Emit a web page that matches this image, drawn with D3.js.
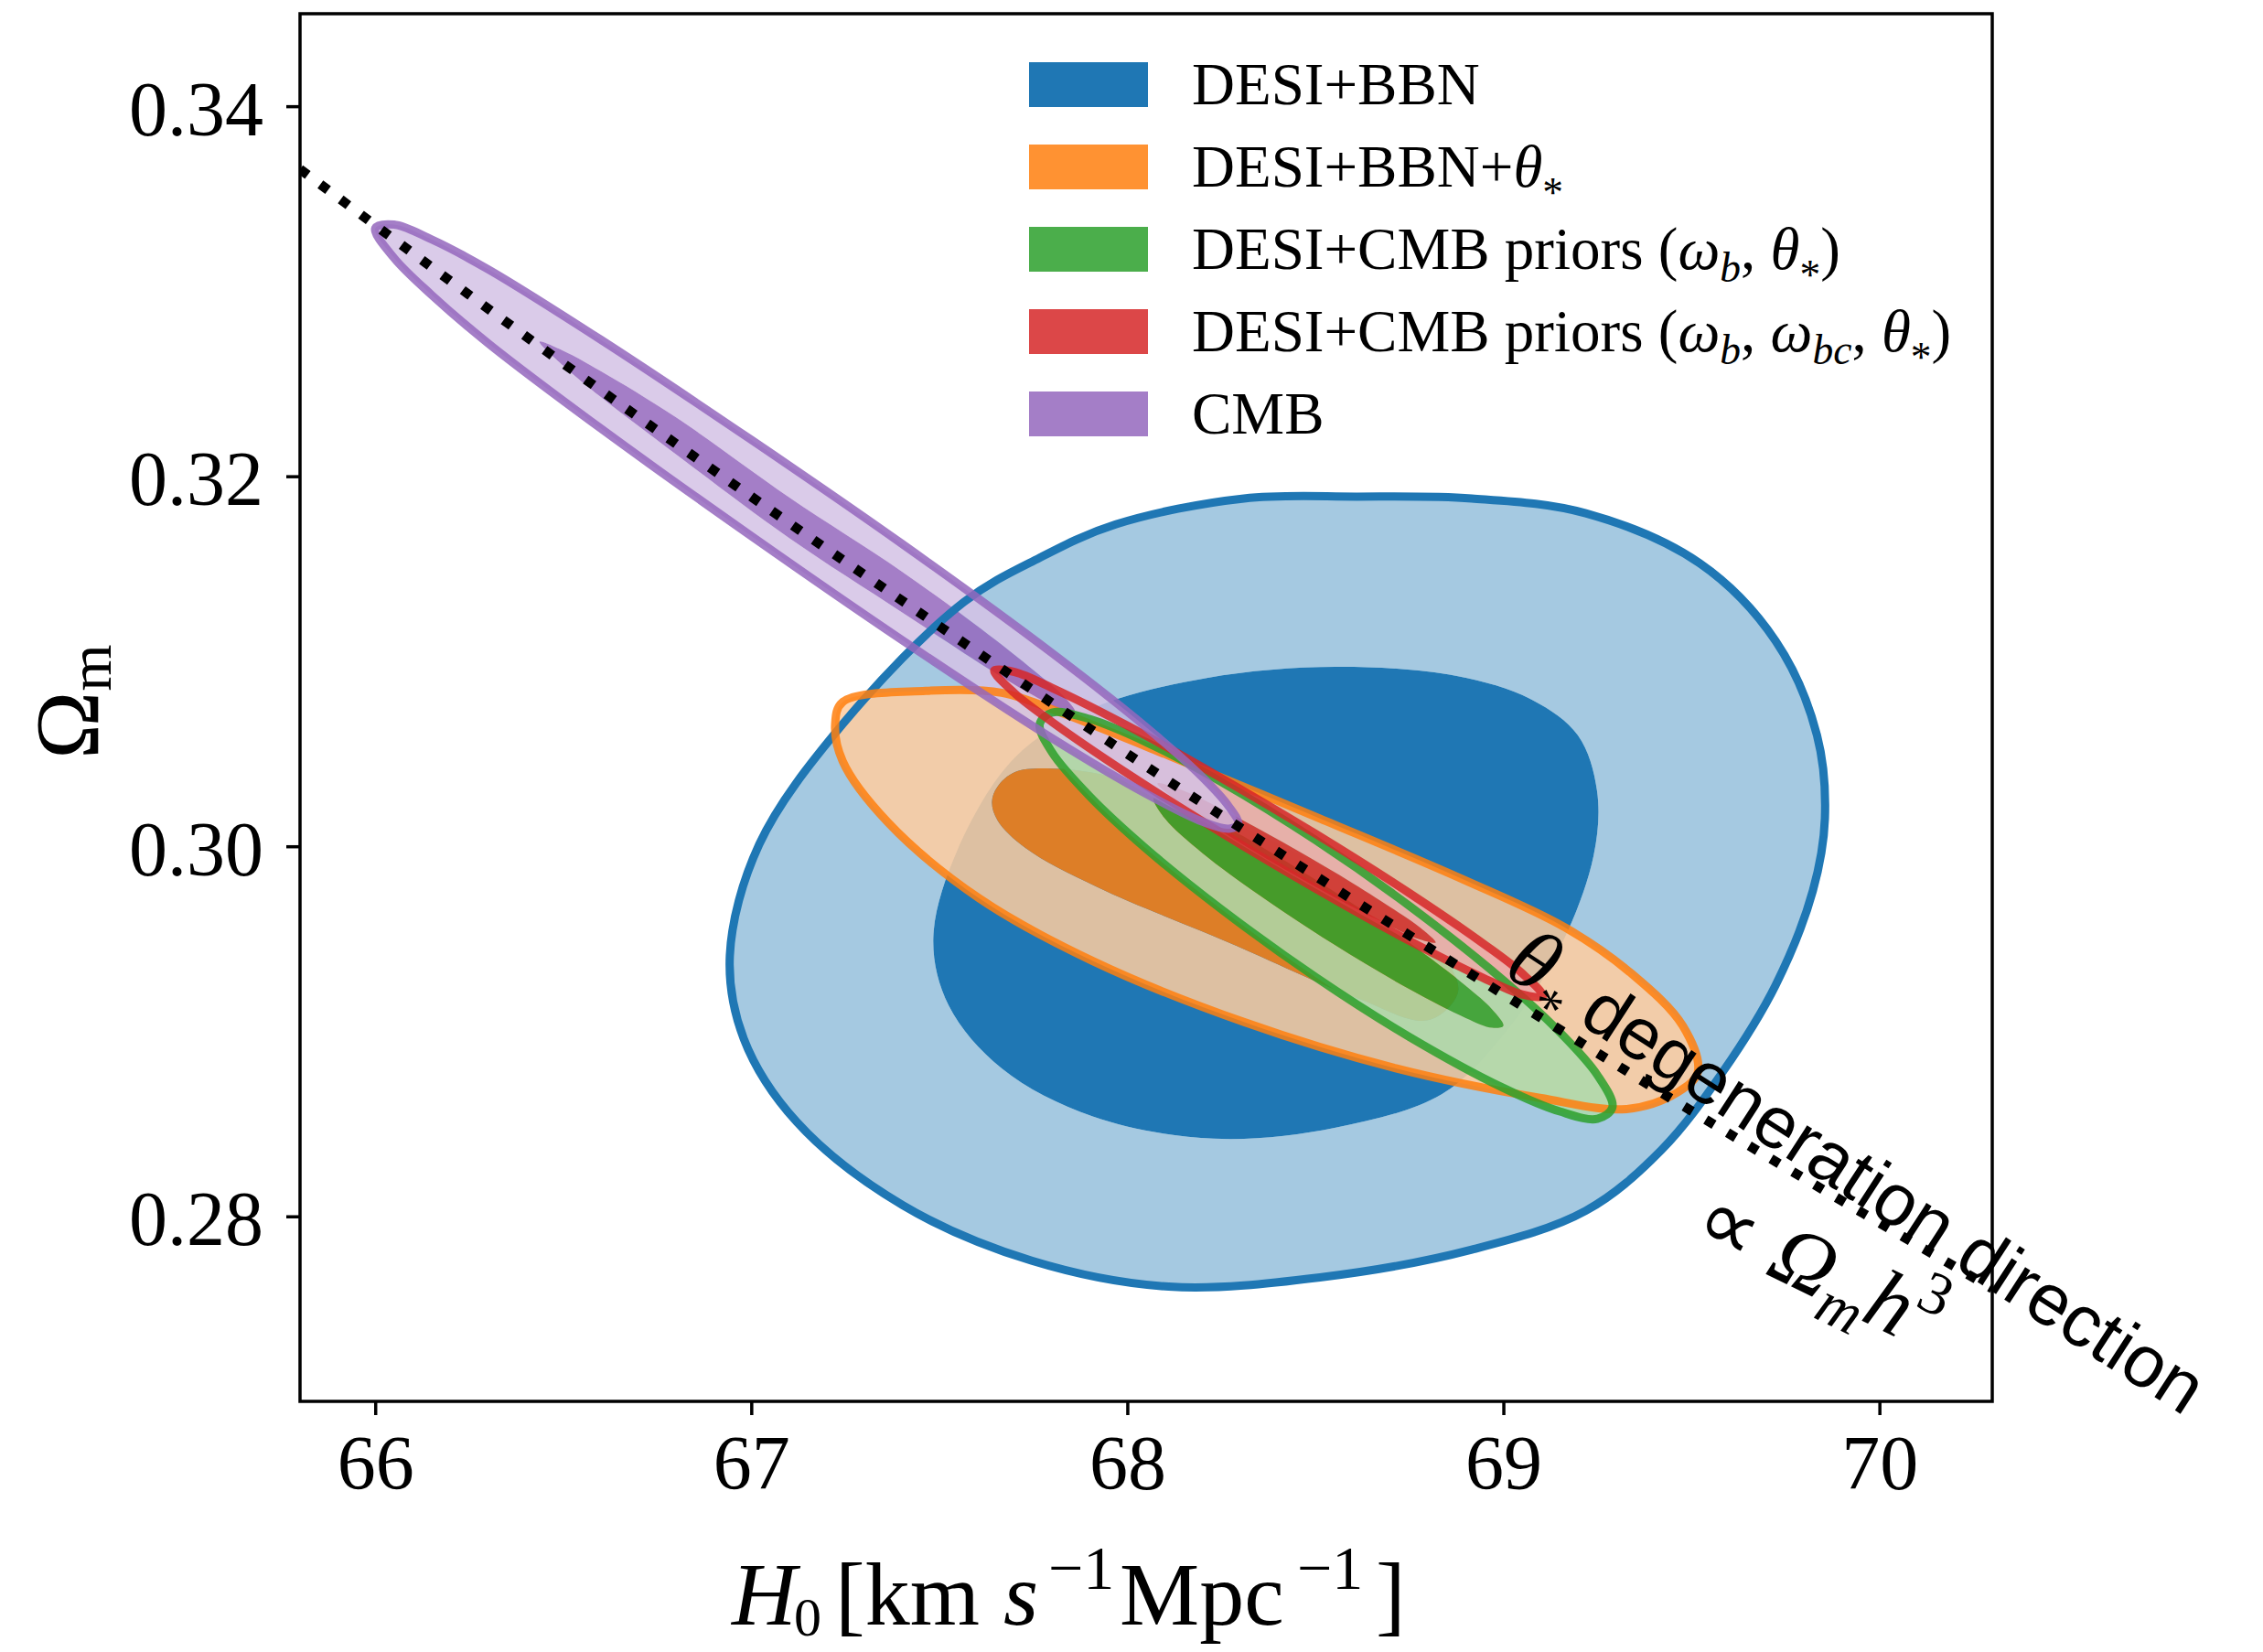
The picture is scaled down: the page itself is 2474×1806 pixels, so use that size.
<!DOCTYPE html>
<html>
<head>
<meta charset="utf-8">
<script src="https://cdn.jsdelivr.net/npm/d3@7/dist/d3.min.js"></script>
<style>
html,body{margin:0;padding:0;background:#fff;}
svg{display:block;}
</style>
</head>
<body>
<svg id="fig" width="2474" height="1806"></svg>
<script>
// ---------------- data ----------------
const h0Ticks = [66, 67, 68, 69, 70];
const h0TickLabels = ["66", "67", "68", "69", "70"];
const omTicks = [0.28, 0.30, 0.32, 0.34];
const omTickLabels = ["0.28", "0.30", "0.32", "0.34"];
const h0Domain = [65.8, 70.3];
const omDomain = [0.27, 0.345];

const seriesColors = ["#1f77b4", "#ff7f0e", "#2ca02c", "#d62728", "#9467bd"];
const seriesAlpha = [1, 0.85, 0.85, 0.85, 0.85];

// contour outlines, [H0, Omega_m]
const desiBbn95 = [[67.565,0.3132],[67.243,0.3066],[67.021,0.3001],[66.943,0.2941],[66.980,0.2896],[67.121,0.2851],[67.403,0.2806],[67.746,0.2776],[68.110,0.2762],[68.512,0.2767],[68.916,0.2782],[69.219,0.2803],[69.421,0.2836],[69.583,0.2878],[69.724,0.2925],[69.823,0.2976],[69.855,0.3015],[69.834,0.3060],[69.724,0.3111],[69.522,0.3153],[69.219,0.3180],[68.916,0.3188],[68.610,0.3189],[68.310,0.3188],[67.969,0.3174],[67.767,0.3156]];
const desiBbn68 = [[68.554,0.3097],[68.876,0.3092],[69.078,0.3079],[69.198,0.3060],[69.249,0.3030],[69.240,0.2995],[69.150,0.2945],[69.000,0.2898],[68.836,0.2866],[68.554,0.2848],[68.230,0.2842],[67.908,0.2854],[67.666,0.2880],[67.525,0.2914],[67.484,0.2950],[67.548,0.2998],[67.701,0.3048],[67.900,0.3074],[68.211,0.3091]];

const desiBbnTheta95 = [[67.243,0.3078],[67.464,0.3084],[67.666,0.3083],[67.826,0.3072],[68.110,0.3049],[68.512,0.3015],[68.894,0.2982],[69.165,0.2956],[69.342,0.2931],[69.477,0.2903],[69.517,0.2878],[69.463,0.2867],[69.327,0.2858],[69.097,0.2864],[68.714,0.2880],[68.310,0.2905],[67.908,0.2938],[67.605,0.2972],[67.363,0.3013],[67.243,0.3046],[67.223,0.3066]];
const desiBbnTheta68 = [[67.654,0.3032],[67.700,0.3040],[67.800,0.3042],[67.970,0.3037],[68.250,0.3015],[68.550,0.2985],[68.800,0.2950],[68.880,0.2922],[68.800,0.2906],[68.610,0.2918],[68.270,0.2948],[67.920,0.2978],[67.730,0.2999],[67.655,0.3014],[67.640,0.3024]];

const cmbPriorsB95 = [[67.767,0.3066],[67.800,0.30723],[67.900,0.30688],[68.050,0.30563],[68.250,0.30348],[68.500,0.30034],[68.750,0.29678],[69.000,0.29276],[69.150,0.28995],[69.250,0.28763],[69.290,0.2859],[69.250,0.28527],[69.150,0.28567],[69.000,0.28694],[68.750,0.28970],[68.500,0.29294],[68.250,0.29660],[68.050,0.29987],[67.900,0.30270],[67.800,0.30507]];
const cmbPriorsB68 = [[68.070,0.3026],[68.100,0.30255],[68.200,0.30170],[68.350,0.30005],[68.550,0.29755],[68.750,0.29478],[68.900,0.29246],[68.970,0.29119],[69.000,0.2903],[68.970,0.29019],[68.900,0.29072],[68.750,0.29228],[68.550,0.29469],[68.350,0.29738],[68.200,0.29963],[68.100,0.30150]];

const cmbPriorsBC95 = [[67.646,0.3095],[67.700,0.30942],[67.800,0.30856],[68.000,0.30652],[68.250,0.30369],[68.500,0.30068],[68.750,0.29747],[68.950,0.29469],[69.050,0.29313],[69.105,0.2919],[69.050,0.29199],[68.950,0.29285],[68.750,0.29489],[68.500,0.29772],[68.250,0.30073],[68.000,0.30394],[67.800,0.30672],[67.700,0.30828]];
const cmbPriorsBC68 = [[68.080,0.3034],[68.150,0.30300],[68.300,0.30148],[68.450,0.29980],[68.600,0.29800],[68.720,0.29644],[68.780,0.29559],[68.820,0.2948],[68.780,0.29495],[68.720,0.29548],[68.600,0.29672],[68.450,0.29840],[68.300,0.30020],[68.150,0.30218]];

const cmb95 = [[66.000,0.3334],[66.050,0.33360],[66.150,0.33280],[66.300,0.33119],[66.600,0.32738],[67.000,0.32197],[67.400,0.31636],[67.800,0.31044],[68.050,0.30644],[68.200,0.30373],[68.270,0.30215],[68.295,0.3012],[68.270,0.30095],[68.200,0.30133],[68.050,0.30284],[67.800,0.30584],[67.400,0.31116],[67.000,0.31677],[66.600,0.32258],[66.300,0.32719],[66.150,0.32980],[66.050,0.33180]];
const cmb68 = [[66.437,0.32727],[66.500,0.32678],[66.600,0.32568],[66.800,0.32318],[67.100,0.31887],[67.400,0.31486],[67.650,0.31115],[67.780,0.30902],[67.830,0.30812],[67.860,0.30730],[67.830,0.30732],[67.780,0.30782],[67.650,0.30935],[67.400,0.31266],[67.100,0.31667],[66.800,0.32118],[66.600,0.32428],[66.500,0.32598]];

// theta_* degeneracy direction (Omega_m h^3 = const)
const degenLine = [[65.8,0.3366],[66.5,0.3261],[67.0,0.3189],[67.5,0.3119],[68.0,0.3050],[68.5,0.2984],[69.0,0.2920],[69.5,0.2857],[70.3,0.2761]];

const contours95 = [desiBbn95, desiBbnTheta95, cmbPriorsB95, cmbPriorsBC95, cmb95];
const contours68 = [desiBbn68, desiBbnTheta68, cmbPriorsB68, cmbPriorsBC68, cmb68];

const legendEntries = [
  [{t:"DESI+BBN"}],
  [{t:"DESI+BBN+"},{t:"θ",i:1},{t:"*",sub:1}],
  [{t:"DESI+CMB priors ("},{t:"ω",i:1},{t:"b",i:1,sub:1},{t:", "},{t:"θ",i:1},{t:"*",sub:1},{t:")"}],
  [{t:"DESI+CMB priors ("},{t:"ω",i:1},{t:"b",i:1,sub:1},{t:", "},{t:"ω",i:1},{t:"bc",i:1,sub:1},{t:", "},{t:"θ",i:1},{t:"*",sub:1},{t:")"}],
  [{t:"CMB"}]
];

// annotation anchors in data coordinates
const annot1Anchor = [68.995, 0.29315];
const annot2Anchor = [69.495, 0.27890];

// ---------------- layout ----------------
const W = 2474, H = 1806;
const L = 328, R = 2178, T = 15, B = 1532;
const svg = d3.select("#fig");
const x = d3.scaleLinear().domain(h0Domain).range([L, R]);
const y = d3.scaleLinear().domain(omDomain).range([B, T]);

const SERIF = "'Liberation Serif','Times New Roman',serif";
const SANS = "'Liberation Sans',Arial,Helvetica,sans-serif";

svg.append("rect").attr("width", W).attr("height", H).attr("fill", "#fff");

svg.append("defs").append("clipPath").attr("id", "plotclip")
  .append("rect").attr("x", L).attr("y", T).attr("width", R - L).attr("height", B - T);

const plot = svg.append("g").attr("clip-path", "url(#plotclip)");

const closed = d3.line().x(d => x(d[0])).y(d => y(d[1])).curve(d3.curveCatmullRomClosed.alpha(0.5));

// filled regions first (all series), then outlines on top
const fills = plot.append("g");
const lines = plot.append("g");
contours95.forEach((c95, i) => {
  const c68 = contours68[i];
  const col = seriesColors[i];
  const light = d3.interpolateRgb(col, "#ffffff")(0.6);
  const a = seriesAlpha[i];
  fills.append("path").attr("d", closed(c95) + closed(c68))
    .attr("fill", light).attr("fill-opacity", a).attr("fill-rule", "evenodd");
  fills.append("path").attr("d", closed(c68)).attr("fill", col).attr("fill-opacity", a);
  lines.append("path").attr("d", closed(c95)).attr("fill", "none")
    .attr("stroke", col).attr("stroke-opacity", a).attr("stroke-width", 9)
    .attr("stroke-linejoin", "round");
});

// dotted degeneracy line
const open = d3.line().x(d => x(d[0])).y(d => y(d[1])).curve(d3.curveMonotoneX);
plot.append("path").attr("d", open(degenLine)).attr("fill", "none")
  .attr("stroke", "#000").attr("stroke-width", 10.5)
  .attr("stroke-dasharray", "10.5 17.2").attr("stroke-linecap", "butt");

// ---------------- axes ----------------
const xAxis = svg.append("g").attr("transform", `translate(0,${B})`)
  .call(d3.axisBottom(x).tickValues(h0Ticks).tickFormat((d, i) => h0TickLabels[i]).tickSize(15).tickSizeOuter(0));
xAxis.select(".domain").remove();
xAxis.selectAll(".tick line").attr("stroke", "#000").attr("stroke-width", 3.5);
xAxis.selectAll(".tick text").attr("y", 96).attr("dy", null)
  .attr("font-family", SERIF).attr("font-size", 84).attr("fill", "#000");

const yAxis = svg.append("g").attr("transform", `translate(${L},0)`)
  .call(d3.axisLeft(y).tickValues(omTicks).tickFormat((d, i) => omTickLabels[i]).tickSize(15).tickSizeOuter(0));
yAxis.select(".domain").remove();
yAxis.selectAll(".tick line").attr("stroke", "#000").attr("stroke-width", 3.5);
yAxis.selectAll(".tick text").attr("x", -40).attr("dy", 31)
  .attr("font-family", SERIF).attr("font-size", 84).attr("fill", "#000");

svg.append("rect").attr("x", L).attr("y", T).attr("width", R - L).attr("height", B - T)
  .attr("fill", "none").attr("stroke", "#000").attr("stroke-width", 3.5);

// x label
const xl = svg.append("text").attr("font-family", SERIF).attr("font-size", 98).attr("fill", "#000");
xl.append("tspan").attr("x", 800).attr("y", 1776).attr("font-style", "italic").text("H");
xl.append("tspan").attr("x", 868).attr("y", 1788).attr("font-size", 60).text("0");
xl.append("tspan").attr("x", 913).attr("y", 1776).text("[km");
xl.append("tspan").attr("x", 1097).attr("y", 1776).attr("font-style", "italic").text("s");
xl.append("tspan").attr("x", 1146).attr("y", 1737).attr("font-size", 68).text("−1");
xl.append("tspan").attr("x", 1224).attr("y", 1776).text("Mpc");
xl.append("tspan").attr("x", 1418).attr("y", 1737).attr("font-size", 68).text("−1");
xl.append("tspan").attr("x", 1504).attr("y", 1776).text("]");

// y label
const yl = svg.append("text").attr("transform", "translate(107,830) rotate(-90)")
  .attr("font-family", SERIF).attr("font-size", 100).attr("fill", "#000");
yl.append("tspan").text("Ω");
yl.append("tspan").attr("font-size", 66).attr("dy", 14).text("m");

// ---------------- legend ----------------
function richText(sel, segs, fs) {
  let shift = 0;
  segs.forEach(s => {
    let target = 0;
    if (s.sub) target = s.t === "*" ? Math.round(fs * 0.34) : Math.round(fs * 0.22);
    const ts = sel.append("tspan").text(s.t).attr("dy", target - shift);
    shift = target;
    if (s.i) ts.attr("font-style", "italic");
    if (s.sub) ts.attr("font-size", fs * 0.7);
  });
}
const legend = svg.append("g");
legendEntries.forEach((segs, i) => {
  const top = 68 + i * 90;
  legend.append("rect").attr("x", 1125).attr("y", top).attr("width", 130).attr("height", 49)
    .attr("fill", seriesColors[i]).attr("fill-opacity", seriesAlpha[i]);
  const t = legend.append("text").attr("x", 1303).attr("y", top + 46)
    .attr("font-family", SERIF).attr("font-size", 65).attr("fill", "#000");
  richText(t, segs, 65);
});

// ---------------- annotations ----------------
const a1 = svg.append("text")
  .attr("transform", `translate(${x(annot1Anchor[0])},${y(annot1Anchor[1])}) rotate(33)`)
  .attr("font-family", SANS).attr("font-size", 80).attr("fill", "#000");
a1.append("tspan").attr("font-family", SERIF).attr("font-style", "italic").attr("font-size", 94).text("θ");
a1.append("tspan").attr("font-family", SERIF).attr("font-size", 60).attr("dy", 24).text("*");
a1.append("tspan").attr("dy", -24).text(" degeneration direction");

const a2 = svg.append("text")
  .attr("transform", `translate(${x(annot2Anchor[0])},${y(annot2Anchor[1])}) rotate(26)`)
  .attr("font-family", SERIF).attr("font-size", 94).attr("fill", "#000");
a2.append("tspan").text("∝ ");
a2.append("tspan").attr("font-style", "italic").text("Ω");
a2.append("tspan").attr("font-style", "italic").attr("font-size", 66).attr("dy", 20).text("m");
a2.append("tspan").attr("font-style", "italic").attr("dy", -20).text("h");
a2.append("tspan").attr("font-size", 66).attr("dy", -40).text("3");
</script>
</body>
</html>
